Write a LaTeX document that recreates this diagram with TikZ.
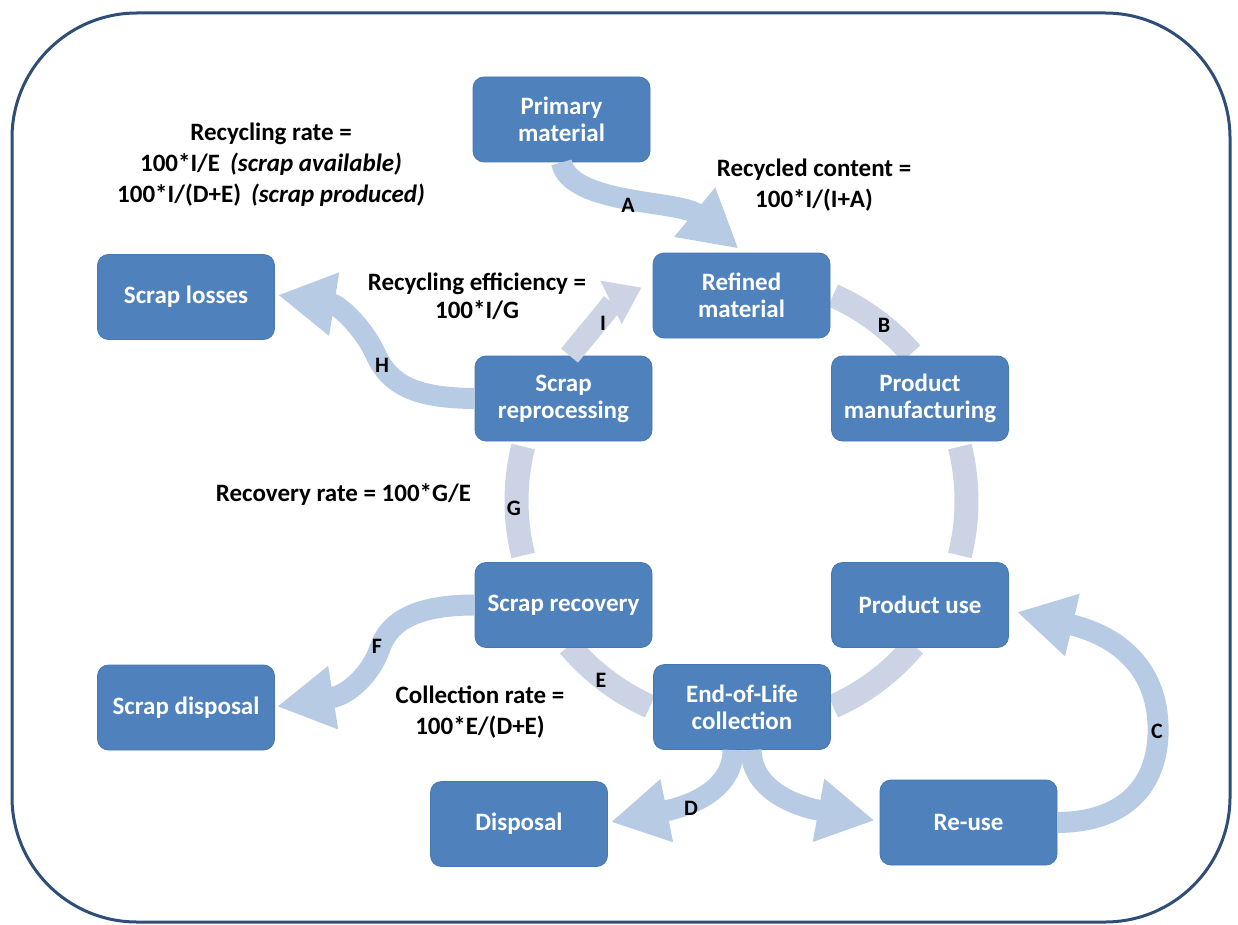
\documentclass[tikz,border=0pt]{standalone}
\usepackage{fontspec}
\setmainfont{Carlito}
\usetikzlibrary{arrows.meta,calc}
\definecolor{boxfill}{HTML}{4F81BD}
\definecolor{boxline}{HTML}{4677B3}
\definecolor{ringc}{HTML}{CBD3E5}
\definecolor{arrc}{HTML}{B8CBE4}
\definecolor{framec}{HTML}{2E4E78}
\begin{document}
\begin{tikzpicture}[x=1pt,y=-1pt,
  box/.style={draw=boxline, line width=0.8pt, fill=boxfill, rounded corners=11pt,
    minimum width=177pt, minimum height=85pt, inner sep=0pt, align=center,
    text=white, font=\fontsize{25}{27}\selectfont\bfseries},
  note/.style={align=center, inner sep=0pt, font=\fontsize{25}{31}\selectfont\bfseries},
  lab/.style={inner sep=0pt, font=\fontsize{22}{24}\selectfont\bfseries},
  ring/.style={draw=ringc, line width=24pt},
  blk/.style={draw=arrc, line width=21pt, -{Triangle[width=60pt,length=57pt]}},
  iarrow/.style={draw=ringc, line width=22pt, -{Triangle[width=46pt,length=34pt]}}]
\useasboundingbox (0,0) rectangle (1238,925);
% frame
\draw[framec, line width=3pt, rounded corners=125pt] (12,13) rectangle (1230,922);

% ring segments
\draw[ring] plot[domain=-66:-41,samples=30] ({741.5+225*cos(\x)},{501+225*sin(\x)});
\draw[ring] plot[domain=-14:14,samples=30] ({741.5+225*cos(\x)},{501+225*sin(\x)});
\draw[ring] plot[domain=40:66,samples=30] ({741.5+225*cos(\x)},{501+225*sin(\x)});
\draw[ring] plot[domain=114:140,samples=30] ({741.5+225*cos(\x)},{501+225*sin(\x)});
\draw[ring] plot[domain=166:194,samples=30] ({741.5+225*cos(\x)},{501+225*sin(\x)});

% boxes
\node[box] (prim)  at (561.5,119.5) {Primary\\material};
\node[box] (ref)   at (741.5,295.5) {Refined\\material};
\node[box] (loss)  at (186,297)     {Scrap losses};
\node[box] (srep)  at (563.5,398.5) {Scrap\\reprocessing};
\node[box] (pman)  at (920,398.5)   {Product\\manufacturing};
\node[box] (srec)  at (563.5,605)   {Scrap recovery};
\node[box] (puse)  at (920,605)     {Product use};
\node[box] (sdis)  at (186,707.5)   {Scrap disposal};
\node[box] (eol)   at (742,707)     {End-of-Life\\collection};
\node[box] (disp)  at (519,824)     {Disposal};
\node[box] (reuse) at (968.5,822.5) {Re-use};

% block arrows
\draw[iarrow] ([xshift=6pt]srep.north) .. controls (588,333) and (616,300) .. ($(ref.west)+(-11,-8)$);
\draw[blk] (prim.south) .. controls (570,205) and (680,200) .. ($(ref.north)+(-3,-4)$);
\draw[blk] (srep.west) .. controls (415,398) and (390,385) .. (376,355)
   .. controls (365,330) and (340,305) .. ($(loss.east)+(3,-2)$);
\draw[blk] (srec.west) .. controls (410,605) and (388,625) .. (380,648)
   .. controls (372,672) and (350,695) .. ($(sdis.east)+(2,-1)$);
\draw[blk] ([xshift=-9pt]eol.south) .. controls (733,790) and (690,806) .. ($(disp.east)+(3,-2)$);
\draw[blk] ([xshift=9pt]eol.south) .. controls (752,790) and (795,806) .. ($(reuse.west)+(-5,-2)$);
\draw[blk] (reuse.east) .. controls (1130,822) and (1160,780) .. (1158,725)
   .. controls (1156,665) and (1115,635) .. ($(puse.east)+(8,7)$);

% flow letters
\node[lab] (lA) at (628,205) {A};
\node[lab] (lB) at (884,325) {B};
\node[lab] (lC) at (1157,731) {C};
\node[lab] (lD) at (691,808) {D};
\node[lab] (lE) at (601,680) {E};
\node[lab] (lF) at (377,646) {F};
\node[lab] (lG) at (514,508) {G};
\node[lab] (lH) at (382,365) {H};
\node[lab] (lI) at (603,323) {I};

% annotations
\node[note] (rrate) at (271,165) {Recycling rate =\\100*I/E\hspace{0.4em}\textit{(scrap available)}\\100*I/(D+E)\hspace{0.4em}\textit{(scrap produced)}};
\node[note] (rcont) at (814,185) {Recycled content =\\100*I/(I+A)};
\node[note, font=\fontsize{25}{28}\selectfont\bfseries] (reff) at (477,296) {Recycling efficiency =\\100*I/G};
\node[note] (rrec) at (343.5,495) {Recovery rate = 100*G/E};
\node[note] (crate) at (480,712) {Collection rate =\\100*E/(D+E)};
\end{tikzpicture}
\end{document}
